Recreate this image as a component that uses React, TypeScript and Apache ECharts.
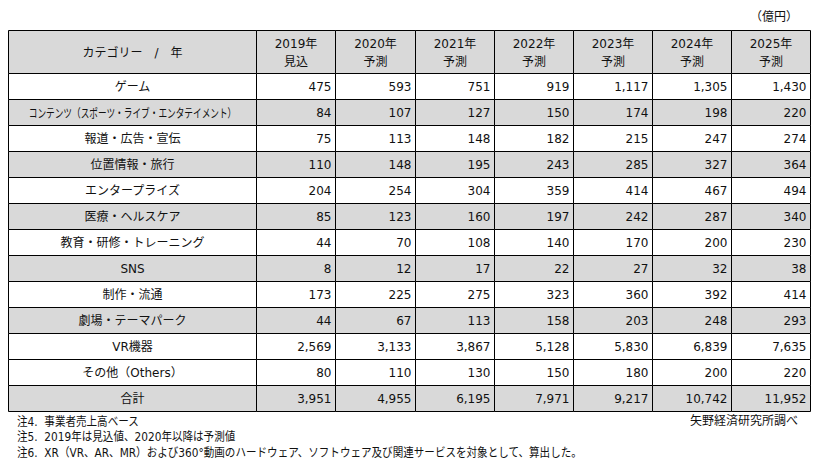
import React, { useEffect, useRef } from "react";
import * as echarts from "echarts";

const headerCorner = "カテゴリー　/　年";
const years = ["2019年", "2020年", "2021年", "2022年", "2023年", "2024年", "2025年"];
const yearStatus = ["見込", "予測", "予測", "予測", "予測", "予測", "予測"];
const categories = [
  "ゲーム",
  "コンテンツ（スポーツ・ライブ・エンタテイメント）",
  "報道・広告・宣伝",
  "位置情報・旅行",
  "エンタープライズ",
  "医療・ヘルスケア",
  "教育・研修・トレーニング",
  "SNS",
  "制作・流通",
  "劇場・テーマパーク",
  "VR機器",
  "その他（Others）",
  "合計",
];
const v2019 = [475, 84, 75, 110, 204, 85, 44, 8, 173, 44, 2569, 80, 3951];
const v2020 = [593, 107, 113, 148, 254, 123, 70, 12, 225, 67, 3133, 110, 4955];
const v2021 = [751, 127, 148, 195, 304, 160, 108, 17, 275, 113, 3867, 130, 6195];
const v2022 = [919, 150, 182, 243, 359, 197, 140, 22, 323, 158, 5128, 150, 7971];
const v2023 = [1117, 174, 215, 285, 414, 242, 170, 27, 360, 203, 5830, 180, 9217];
const v2024 = [1305, 198, 247, 327, 467, 287, 200, 32, 392, 248, 6839, 200, 10742];
const v2025 = [1430, 220, 274, 364, 494, 340, 230, 38, 414, 293, 7635, 220, 11952];
const yearValues = [v2019, v2020, v2021, v2022, v2023, v2024, v2025];

const unitLabel = "（億円）";
const sourceLabel = "矢野経済研究所調べ";
const notes = [
  "注4.  事業者売上高ベース",
  "注5.  2019年は見込値、2020年以降は予測値",
  "注6.  XR（VR、AR、MR）および360°動画のハードウェア、ソフトウェア及び関連サービスを対象として、算出した。",
];

// layout (axis units = px)
const colEdges = [0, 248, 327, 407, 486, 565, 644, 723, 802];
const headerH = 43;
const rowH = 26;
const shaded = [false, true, false, true, false, true, false, true, false, true, false, false, true];

const FONT = "'DejaVu Sans', 'Noto Sans CJK JP', sans-serif";
const FS = 12;
const TEXT = "#111111";
const GRAY = "#d9d9d9";

let measureCtx: CanvasRenderingContext2D | null = null;
function measure(text: string): number {
  if (!measureCtx) {
    const c = document.createElement("canvas");
    measureCtx = c.getContext("2d");
  }
  if (!measureCtx) return text.length * FS;
  measureCtx.font = `${FS}px ${FONT}`;
  return measureCtx.measureText(text).width;
}

function rowTop(r: number) {
  return r === 0 ? 0 : headerH + (r - 1) * rowH;
}
function rowBottom(r: number) {
  return r === 0 ? headerH : headerH + r * rowH;
}

export default function App() {
  const ref = useRef<HTMLDivElement>(null);
  useEffect(() => {
    if (!ref.current) return;
    const chart = echarts.init(ref.current, undefined, { renderer: "svg" });
    const cells: number[][] = [];
    for (let r = 0; r <= categories.length; r++) {
      for (let c = 0; c < colEdges.length - 1; c++) cells.push([c, r]);
    }
    const totalH = rowBottom(categories.length);

    const option: any = {
      animation: false,
      grid: { left: 8, top: 30, width: colEdges[colEdges.length - 1], height: totalH },
      xAxis: { type: "value", min: 0, max: colEdges[colEdges.length - 1], show: false },
      yAxis: { type: "value", min: 0, max: totalH, inverse: true, show: false },
      series: [
        {
          type: "custom",
          coordinateSystem: "cartesian2d",
          data: cells,
          encode: { x: 0, y: 1 },
          renderItem: (params: any, api: any) => {
            const c = api.value(0);
            const r = api.value(1);
            const p0 = api.coord([colEdges[c], rowTop(r)]);
            const p1 = api.coord([colEdges[c + 1], rowBottom(r)]);
            const x0 = Math.round(p0[0]) + 0.5;
            const y0 = Math.round(p0[1]) + 0.5;
            const x1 = Math.round(p1[0]) + 0.5;
            const y1 = Math.round(p1[1]) + 0.5;
            const w = x1 - x0;
            const h = y1 - y0;
            const fill = r === 0 || shaded[r - 1] ? GRAY : "#ffffff";
            const children: any[] = [
              {
                type: "rect",
                shape: { x: x0, y: y0, width: w, height: h },
                style: { fill, stroke: "#000", lineWidth: 1 },
              },
            ];
            let text = "";
            let align = "center";
            let tx = (x0 + x1) / 2;
            if (r === 0) {
              text = c === 0 ? headerCorner : years[c - 1] + "\n" + yearStatus[c - 1];
            } else if (c === 0) {
              text = categories[r - 1];
            } else {
              text = yearValues[c - 1][r - 1].toLocaleString("en-US");
              align = "right";
              tx = x1 - 4;
            }
            let scale = 1;
            if (c === 0) {
              const tw = measure(text);
              const avail = w - 40;
              if (tw > avail) scale = avail / tw;
            }
            children.push({
              type: "text",
              x: tx,
              y: (y0 + y1) / 2 + 0.5,
              scaleX: scale,
              style: {
                text,
                x: 0,
                y: 0,
                align,
                verticalAlign: "middle",
                fontSize: FS,
                fontFamily: FONT,
                fill: TEXT,
                lineHeight: 18,
              },
            });
            return { type: "group", children };
          },
        },
      ],
      graphic: [
        {
          type: "text",
          right: 19,
          top: 11,
          style: { text: unitLabel, fontSize: FS, fontFamily: FONT, fill: TEXT },
        },
        {
          type: "text",
          right: 19,
          top: 415,
          style: { text: sourceLabel, fontSize: FS, fontFamily: FONT, fill: TEXT },
        },
        ...notes.map((t, i) => ({
          type: "text",
          x: 17,
          y: 416 + i * 15.5,
          scaleX: 0.88,
          style: { text: t, x: 0, y: 0, fontSize: FS, fontFamily: FONT, fill: TEXT },
        })),
      ],
    };
    chart.setOption(option);
    return () => chart.dispose();
  }, []);
  return (
    <div
      ref={ref}
      style={{ position: "fixed", left: 0, top: 0, width: 817, height: 471, background: "#fff" }}
    />
  );
}
